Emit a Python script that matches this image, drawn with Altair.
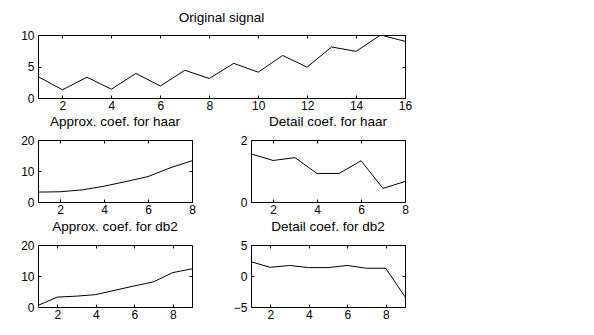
import altair as alt
import pandas as pd

# ---- data ----
sig_x = list(range(1, 17))
sig_y = [3.4, 1.3, 3.3, 1.4, 3.9, 1.9, 4.4, 3.1, 5.5, 4.1, 6.75, 4.9, 8.1, 7.4, 10.0, 9.0]

haar_x = list(range(1, 9))
haar_a = [3.2, 3.3, 3.9, 5.1, 6.6, 8.2, 11.0, 13.3]
haar_d = [1.55, 1.34, 1.43, 0.92, 0.92, 1.33, 0.44, 0.66]

db2_x = list(range(1, 10))
db2_a = [0.5, 3.2, 3.5, 4.0, 5.4, 6.8, 8.1, 11.1, 12.3]
db2_d = [2.3, 1.4, 1.7, 1.35, 1.35, 1.7, 1.25, 1.25, -3.35]

FONT = "Liberation Sans"


def panel(xs, ys, title, w, h, xdom, xticks, ydom, yticks, toff):
    df = pd.DataFrame({"x": xs, "y": ys})
    base = alt.Chart(df)
    common_ax = dict(domain=False, grid=False, title=None, tickSize=3, offset=-3,
                     tickColor="black", labelFlush=False, labelOverlap=False, format="d")
    main = base.mark_line(color="black", strokeWidth=1, clip=True).encode(
        x=alt.X("x:Q", scale=alt.Scale(domain=xdom, nice=False, zero=False),
                axis=alt.Axis(values=xticks, orient="bottom", labelPadding=2, **common_ax)),
        y=alt.Y("y:Q", scale=alt.Scale(domain=ydom, nice=False, zero=False),
                axis=alt.Axis(values=yticks, orient="left", labelPadding=4, **common_ax)),
    )
    frame = base.mark_line(opacity=0).encode(
        x=alt.X("x:Q", scale=alt.Scale(domain=xdom, nice=False, zero=False),
                axis=alt.Axis(values=xticks, orient="top", labels=False, **common_ax)),
        y=alt.Y("y:Q", scale=alt.Scale(domain=ydom, nice=False, zero=False),
                axis=alt.Axis(values=yticks, orient="right", labels=False, **common_ax)),
    )
    return (
        alt.layer(main, frame)
        .resolve_axis(x="independent", y="independent")
        .properties(width=w, height=h, title=alt.TitleParams(title, offset=toff))
    )


top = panel(sig_x, sig_y, "Original signal", 367, 63, [1, 16], [2, 4, 6, 8, 10, 12, 14, 16], [0, 10], [0, 5, 10], 5)
p1 = panel(haar_x, haar_a, "Approx. coef. for haar", 154, 62, [1, 8], [2, 4, 6, 8], [0, 20], [0, 10, 20], 6)
p2 = panel(haar_x, haar_d, "Detail coef. for haar", 154, 62, [1, 8], [2, 4, 6, 8], [0, 2], [0, 1, 2], 6)
p3 = panel(db2_x, db2_a, "Approx. coef. for db2", 154, 62, [1, 9], [2, 4, 6, 8], [0, 20], [0, 10, 20], 6)
p4 = panel(db2_x, db2_d, "Detail coef. for db2", 154, 62, [1, 9], [2, 4, 6, 8], [-5, 5], [-5, 0, 5], 6)

lower = alt.concat(p1, p2, p3, p4, columns=2, spacing={"row": 43, "column": 59}, bounds="flush")

chart = (
    alt.vconcat(top, lower, spacing=2)
    .properties(padding={"left": 20, "top": 10, "right": 5, "bottom": 5}, background="white")
    .configure_view(stroke="black", strokeWidth=1)
    .configure_axis(labelFont=FONT, labelFontSize=12, labelColor="black")
    .configure_title(font=FONT, fontSize=13.5, fontWeight="normal", color="black", anchor="middle")
)

chart.save("out.html", embed_options={"renderer": "svg", "actions": False})
